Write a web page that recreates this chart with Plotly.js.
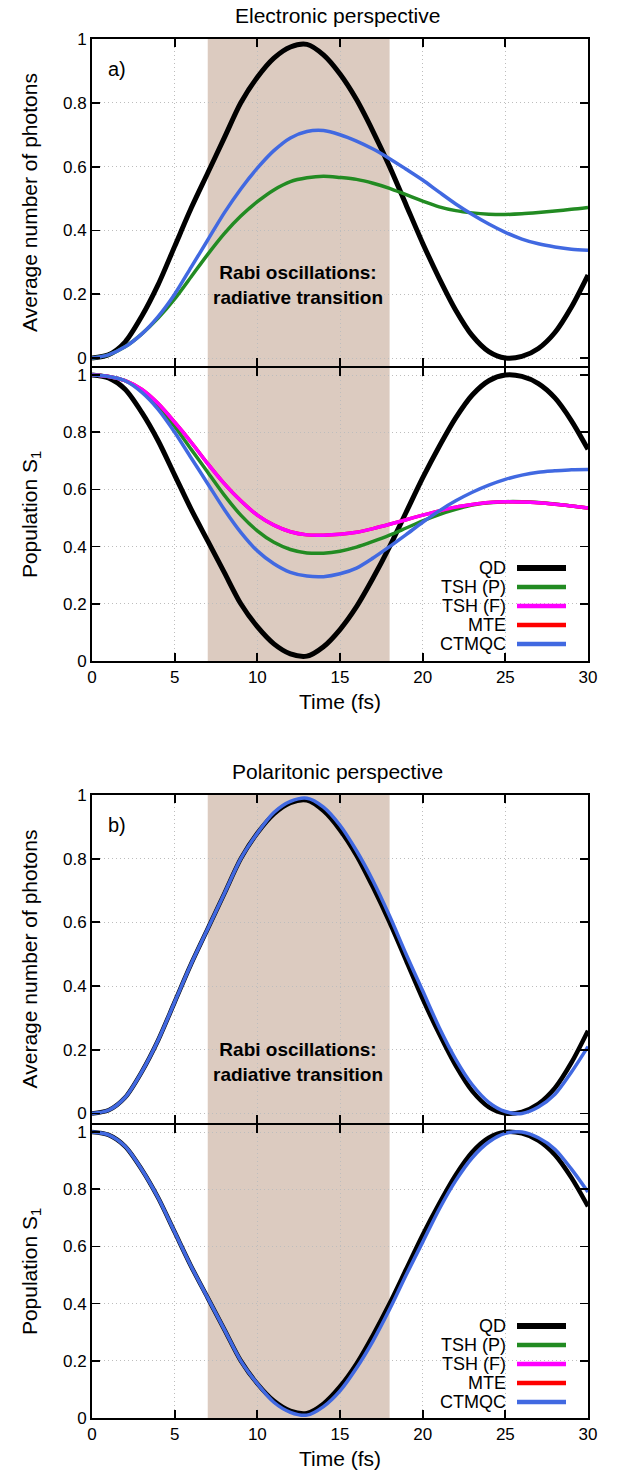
<!DOCTYPE html>
<html>
<head>
<meta charset="utf-8">
<script src="https://cdn.plot.ly/plotly-3.0.1.min.js"></script>
<style>html,body{margin:0;padding:0;background:#fff;}#chart{width:618px;height:1473px;}</style>
</head>
<body>
<div id="chart"></div>
<script>
// ---------------- data ----------------
var time = [0,1,2,3,4,5,6,7,8,9,10,11,12,13,14,15,16,17,18,19,20,21,22,23,24,25,26,27,28,29,30];

// Panel a) electronic perspective – average number of photons
var photQD_a   = [0.00,0.01,0.05,0.13,0.23,0.35,0.47,0.58,0.69,0.80,0.88,0.94,0.975,0.983,0.95,0.89,0.81,0.71,0.60,0.48,0.36,0.25,0.15,0.07,0.02,0.00,0.005,0.03,0.08,0.16,0.26];
var photTSHP_a = [0.00,0.01,0.035,0.075,0.125,0.185,0.255,0.325,0.39,0.445,0.49,0.527,0.553,0.565,0.57,0.566,0.56,0.548,0.532,0.512,0.492,0.474,0.462,0.455,0.451,0.450,0.452,0.456,0.461,0.466,0.472];
var photCT_a   = [0.00,0.01,0.035,0.075,0.13,0.2,0.285,0.37,0.455,0.53,0.595,0.65,0.69,0.71,0.713,0.70,0.68,0.655,0.625,0.592,0.558,0.52,0.483,0.45,0.42,0.394,0.373,0.358,0.348,0.341,0.338];

// Panel a) electronic perspective – population S1
var popQD_a    = [1.00,0.99,0.95,0.87,0.77,0.65,0.53,0.42,0.31,0.20,0.12,0.06,0.025,0.017,0.05,0.11,0.19,0.29,0.40,0.52,0.64,0.75,0.85,0.93,0.98,1.00,0.995,0.97,0.92,0.84,0.74];
var popTSHP_a  = [1.00,0.995,0.98,0.945,0.89,0.82,0.74,0.66,0.58,0.51,0.455,0.415,0.39,0.378,0.377,0.384,0.398,0.418,0.44,0.465,0.49,0.512,0.53,0.545,0.553,0.557,0.557,0.554,0.549,0.542,0.535];
var popTSHF_a  = [1.00,0.995,0.98,0.95,0.90,0.835,0.765,0.69,0.62,0.56,0.51,0.475,0.452,0.441,0.44,0.443,0.45,0.463,0.478,0.494,0.51,0.525,0.538,0.547,0.554,0.557,0.556,0.553,0.548,0.542,0.535];
var popMTE_a   = [1.00,0.995,0.98,0.95,0.90,0.835,0.765,0.69,0.62,0.56,0.51,0.475,0.452,0.441,0.44,0.443,0.45,0.463,0.478,0.494,0.51,0.525,0.538,0.547,0.554,0.557,0.556,0.553,0.548,0.542,0.535];
var popCT_a    = [1.00,0.995,0.98,0.94,0.88,0.80,0.71,0.62,0.53,0.45,0.385,0.34,0.31,0.297,0.295,0.305,0.325,0.36,0.40,0.442,0.485,0.525,0.56,0.59,0.615,0.635,0.65,0.66,0.665,0.669,0.67];

// Panel b) polaritonic perspective
var photQD_b   = [0.00,0.01,0.05,0.13,0.23,0.35,0.47,0.58,0.69,0.80,0.88,0.94,0.975,0.983,0.95,0.89,0.81,0.71,0.60,0.48,0.36,0.25,0.15,0.07,0.02,0.00,0.005,0.03,0.08,0.16,0.26];
var photCT_b   = [0.00,0.01,0.05,0.13,0.23,0.35,0.47,0.58,0.69,0.80,0.88,0.945,0.98,0.99,0.962,0.905,0.825,0.73,0.62,0.50,0.385,0.27,0.17,0.09,0.035,0.006,0.00,0.02,0.06,0.13,0.21];
var popQD_b    = [1.00,0.99,0.95,0.87,0.77,0.65,0.53,0.42,0.31,0.20,0.12,0.06,0.025,0.017,0.05,0.11,0.19,0.29,0.40,0.52,0.64,0.75,0.85,0.93,0.98,1.00,0.995,0.97,0.92,0.84,0.74];
var popCT_b    = [1.00,0.99,0.95,0.87,0.77,0.65,0.53,0.42,0.31,0.20,0.12,0.055,0.02,0.01,0.04,0.095,0.175,0.27,0.38,0.50,0.615,0.73,0.83,0.91,0.965,0.995,1.00,0.98,0.94,0.87,0.79];

var legendNames  = ['QD','TSH (P)','TSH (F)','MTE','CTMQC'];
var legendColors = ['#000000','#228b22','#ff00ff','#ff0000','#4169e1'];
var xTicks = [0,5,10,15,20,25,30];
var yTicks = [0,0.2,0.4,0.6,0.8,1];
var yTickText = ['0','0.2','0.4','0.6','0.8','1'];
var shadeRange = [7,18];

// ---------------- figure ----------------
var W = 618, H = 1473;
function py(px){ return 1 - px/H; }
function pxX(px){ return px/W; }

var C = {QD:'#000000', TSHP:'#228b22', TSHF:'#ff00ff', MTE:'#ff0000', CT:'#4169e1'};
function tr(y, xa, ya, color, w){
  return {x: time, y: y, xaxis: xa, yaxis: ya, type:'scatter', mode:'lines',
          line:{color: color, width: w, shape:'spline', smoothing:0.8}, showlegend:false, hoverinfo:'skip'};
}

var data = [
  tr(photQD_a,'x','y',C.QD,5),
  tr(photTSHP_a,'x','y',C.TSHP,3.5),
  tr(photCT_a,'x','y',C.CT,3.5),

  tr(popQD_a,'x2','y2',C.QD,5),
  tr(popTSHP_a,'x2','y2',C.TSHP,3.5),
  tr(popMTE_a,'x2','y2',C.MTE,3.5),
  tr(popTSHF_a,'x2','y2',C.TSHF,3.5),
  tr(popCT_a,'x2','y2',C.CT,3.5),

  tr(photQD_b,'x3','y3',C.QD,4.5),
  tr(photCT_b,'x3','y3',C.CT,3.5),

  tr(popQD_b,'x4','y4',C.QD,4.5),
  tr(popCT_b,'x4','y4',C.CT,3.5)
];

var font = 'Liberation Sans, Arial, sans-serif';
function xa(anchor, showLabels, title){
  var o = {anchor: anchor, domain:[pxX(92), pxX(588)], range:[0,30], tickvals: xTicks,
    ticks:'inside', ticklen:8, tickwidth:1.8, tickcolor:'#000', mirror:'ticks',
    showline:true, linecolor:'#000', linewidth:2,
    showgrid:true, gridcolor:'#bdbdbd', gridwidth:1, griddash:'1px,3px',
    zeroline:false, showticklabels: showLabels,
    tickfont:{family:font, size:17, color:'#000'}};
  if (title) o.title = {text:title, font:{family:font, size:21, color:'#000'}, standoff:8};
  return o;
}
function ya(anchor, dom, range, title){
  return {anchor: anchor, domain: dom, range: range, tickvals: yTicks, ticktext: yTickText,
    ticks:'inside', ticklen:8, tickwidth:1.8, tickcolor:'#000', mirror:'ticks',
    showline:true, linecolor:'#000', linewidth:2,
    showgrid:true, gridcolor:'#bdbdbd', gridwidth:1, griddash:'1px,3px',
    zeroline:false,
    tickfont:{family:font, size:17, color:'#000'},
    title:{text:title, font:{family:font, size:21, color:'#000'}, standoff:20}};
}

var domA1 = [py(366), py(39)];
var domA2 = [py(661), py(368)];
var domB1 = [py(1123), py(795)];
var domB2 = [py(1418), py(1125)];

var shapes = [];
['x','x2','x3','x4'].forEach(function(ax, i){
  shapes.push({type:'rect', xref: ax, yref: (i===0?'y':'y'+(i+1))+' domain',
    x0: shadeRange[0], x1: shadeRange[1], y0:0, y1:1,
    fillcolor:'#dccbc0', line:{width:0}, layer:'below'});
});

var annotations = [
  {text:'Electronic perspective', xref:'paper', yref:'paper', x:pxX(337), y:py(15), showarrow:false,
   font:{family:font, size:21, color:'#000'}, xanchor:'center', yanchor:'middle'},
  {text:'Polaritonic perspective', xref:'paper', yref:'paper', x:pxX(337), y:py(771), showarrow:false,
   font:{family:font, size:21, color:'#000'}, xanchor:'center', yanchor:'middle'},
  {text:'a)', xref:'paper', yref:'paper', x:pxX(106), y:py(69), showarrow:false,
   font:{family:font, size:20, color:'#000'}, xanchor:'left', yanchor:'middle'},
  {text:'b)', xref:'paper', yref:'paper', x:pxX(106), y:py(825), showarrow:false,
   font:{family:font, size:20, color:'#000'}, xanchor:'left', yanchor:'middle'},
  {text:'<b>Rabi oscillations:</b><br><b>radiative transition</b>', xref:'paper', yref:'paper', x:pxX(298), y:py(285), showarrow:false,
   font:{family:font, size:19, color:'#000'}, xanchor:'center', yanchor:'middle', align:'center'},
  {text:'<b>Rabi oscillations:</b><br><b>radiative transition</b>', xref:'paper', yref:'paper', x:pxX(298), y:py(1062), showarrow:false,
   font:{family:font, size:19, color:'#000'}, xanchor:'center', yanchor:'middle', align:'center'}
];

function addLegend(ys){
  legendNames.forEach(function(n, i){
    annotations.push({text:n, xref:'paper', yref:'paper', x:pxX(508), y:py(ys[i]), showarrow:false,
      font:{family:font, size:18, color:'#000'}, xanchor:'right', yanchor:'middle'});
    shapes.push({type:'line', xref:'paper', yref:'paper', x0:pxX(517), x1:pxX(566), y0:py(ys[i]), y1:py(ys[i]),
      line:{color: legendColors[i], width: (i===0?6:4.5)}, layer:'above'});
  });
}
addLegend([568,587,606,625,644]);
addLegend([1326,1345,1364,1383,1402]);

var layout = {
  width: W, height: H,
  margin:{l:0, r:0, t:0, b:0},
  paper_bgcolor:'#fff', plot_bgcolor:'#fff',
  showlegend:false,
  xaxis: xa('y', false, null),
  xaxis2: xa('y2', true, 'Time (fs)'),
  xaxis3: xa('y3', false, null),
  xaxis4: xa('y4', true, 'Time (fs)'),
  yaxis: ya('x', domA1, [-0.025, 1.0], 'Average number of photons'),
  yaxis2: ya('x2', domA2, [0, 1.0245], 'Population S<sub>1</sub>'),
  yaxis3: ya('x3', domB1, [-0.03, 1.0], 'Average number of photons'),
  yaxis4: ya('x4', domB2, [0, 1.0245], 'Population S<sub>1</sub>'),
  shapes: shapes,
  annotations: annotations
};

Plotly.newPlot('chart', data, layout, {displayModeBar:false, staticPlot:true});
</script>
</body>
</html>
